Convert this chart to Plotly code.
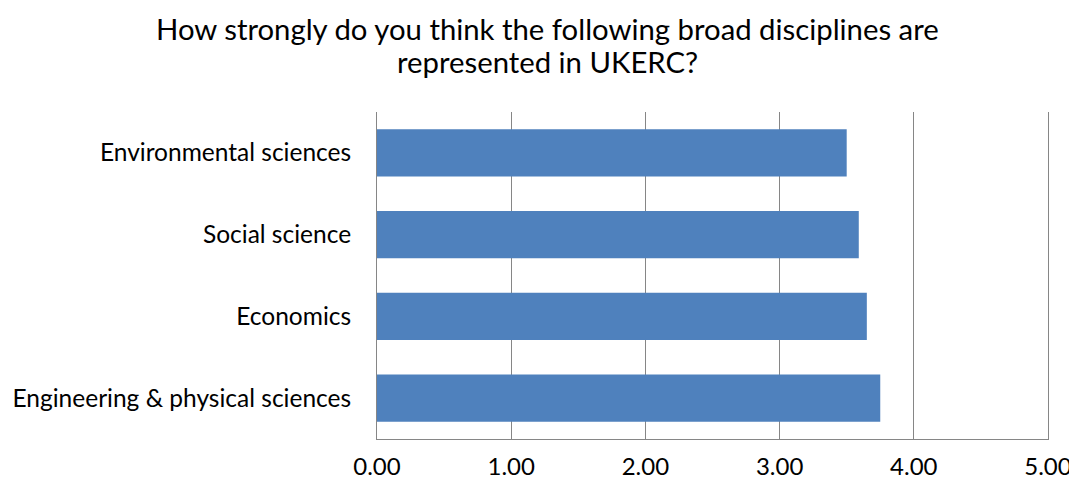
import plotly.graph_objects as go

categories = ["Engineering & physical sciences", "Economics", "Social science", "Environmental sciences"]
values = [3.75, 3.65, 3.59, 3.50]
tick_vals = [0, 1, 2, 3, 4, 5]
tick_text = ["0.00", "1.00", "2.00", "3.00", "4.00", "5.00"]
title_lines = ["How strongly do you think the following broad disciplines are",
               "represented in UKERC?"]

# the page body adds an 8px offset, so the figure is sized to fit the window
W, H = 1069, 478
ML, MR, MT, MB = 369, 29, 104, 47
plot_w = W - ML - MR
plot_h = H - MT - MB

fig = go.Figure()
fig.add_trace(go.Bar(
    y=categories, x=values, orientation="h",
    marker=dict(color="#4F81BD", line=dict(width=0)),
    width=0.58,
))
font_family = "Lato, Open Sans, DejaVu Sans, sans-serif"
fig.update_layout(
    width=W, height=H,
    margin=dict(l=ML, r=MR, t=MT, b=MB),
    paper_bgcolor="white", plot_bgcolor="white",
    showlegend=False,
    font=dict(family=font_family, color="black"),
    bargap=0.42,
)
# title lines placed as annotations (centres in figure pixels from top)
for line, cy in zip(title_lines, [20, 53]):
    fig.add_annotation(
        text=line, showarrow=False,
        xref="paper", yref="paper",
        x=(539 - ML) / plot_w, y=1 + (MT - cy) / plot_h,
        xanchor="center", yanchor="middle", align="center",
        borderpad=0,
        font=dict(family=font_family, size=29.3, color="black"),
    )
fig.update_xaxes(
    range=[0, 5], tickvals=tick_vals, ticktext=tick_text,
    showgrid=True, gridcolor="#868686", gridwidth=1,
    showline=True, linecolor="#868686", linewidth=1,
    zeroline=False, automargin=False,
    tickfont=dict(size=24), ticks="", ticklen=0,
    ticklabelstandoff=6,
)
fig.update_yaxes(
    showline=True, linecolor="#868686", linewidth=1, mirror=True,
    showgrid=False, ticks="", tickfont=dict(size=24.5),
    ticklabelstandoff=20, automargin=False,
)
fig.write_html("out.html")
